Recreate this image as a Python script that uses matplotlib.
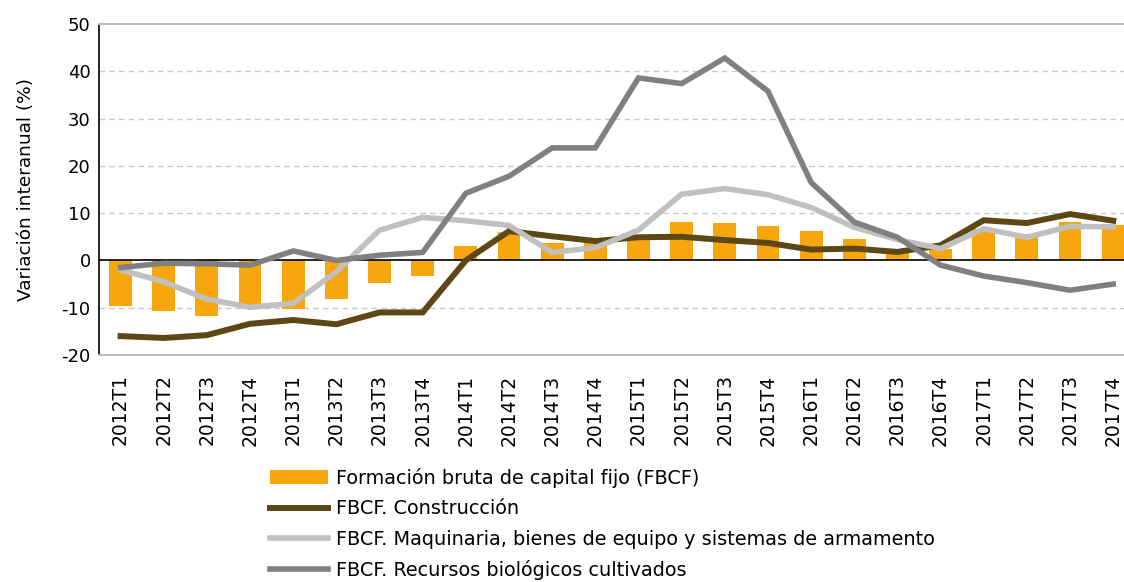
import matplotlib
matplotlib.use("Agg")
import matplotlib.pyplot as plt
import numpy as np

categories = ["2012T1", "2012T2", "2012T3", "2012T4",
              "2013T1", "2013T2", "2013T3", "2013T4",
              "2014T1", "2014T2", "2014T3", "2014T4",
              "2015T1", "2015T2", "2015T3", "2015T4",
              "2016T1", "2016T2", "2016T3", "2016T4",
              "2017T1", "2017T2", "2017T3", "2017T4"]

fbcf = [-9.6, -10.6, -11.7, -9.9, -10.2, -8.1, -4.7, -3.2,
        3.0, 6.0, 3.7, 4.0, 5.0, 8.1, 7.9, 7.2,
        6.2, 4.5, 2.5, 2.4, 6.6, 5.5, 8.1, 7.4]

construccion = [-16.0, -16.4, -15.8, -13.4, -12.6, -13.5, -11.0, -11.0,
                0.0, 6.2, 5.1, 4.1, 4.9, 5.0, 4.3, 3.7,
                2.3, 2.5, 1.8, 3.2, 8.5, 7.9, 9.8, 8.4]

maquinaria = [-2.0, -4.5, -8.2, -9.9, -9.1, -2.4, 6.4, 9.1,
              8.4, 7.4, 1.7, 2.7, 6.4, 14.0, 15.2, 13.9,
              11.2, 7.0, 4.4, 2.5, 6.7, 4.9, 7.2, 7.1]

recursos = [-1.5, -0.6, -0.7, -1.0, 2.0, 0.0, 1.1, 1.7,
            14.2, 17.8, 23.8, 23.8, 38.6, 37.4, 42.8, 35.8,
            16.5, 8.1, 4.9, -1.0, -3.3, -4.7, -6.3, -5.0]

labels = ["Formación bruta de capital fijo (FBCF)",
          "FBCF. Construcción",
          "FBCF. Maquinaria, bienes de equipo y sistemas de armamento",
          "FBCF. Recursos biológicos cultivados"]

yticks = [-20, -10, 0, 10, 20, 30, 40, 50]

plt.rcParams['font.family'] = ['DejaVu Sans']

fig = plt.figure(figsize=(11.24, 5.82), dpi=100)
ax = fig.add_axes([99 / 1124, 1 - 355 / 582, 1 - 99 / 1124, (355 - 24) / 582])

x = np.arange(len(categories))
bars = ax.bar(x, fbcf, width=0.53, color="#F7A60D", zorder=2, label=labels[0])
ax.axhline(0, color="black", lw=1.2, zorder=3)
l1, = ax.plot(x, construccion, color="#5E4716", lw=4.3, zorder=4, label=labels[1],
              solid_joinstyle="miter")
l2, = ax.plot(x, maquinaria, color="#C0C0C0", lw=4.0, zorder=5, label=labels[2],
              solid_joinstyle="miter")
l3, = ax.plot(x, recursos, color="#808080", lw=4.0, zorder=6, label=labels[3],
              solid_joinstyle="miter")

ax.set_xlim(-0.5, 23.25)
ax.set_ylim(-20, 50)
ax.set_yticks(yticks)
ax.set_yticklabels([str(v) for v in yticks], fontsize=13)
ax.set_xticks(x)
ax.set_xticklabels(categories, rotation=90, fontsize=13.5)
ax.tick_params(axis="both", length=0, pad=6)
ax.tick_params(axis="x", pad=14)

for v in [-10, 10, 20, 30, 40]:
    ax.axhline(v, color="#c8c8c8", lw=1.0, ls=(0, (4, 3)), zorder=1)

ax.spines["left"].set_color("black")
ax.spines["left"].set_linewidth(1.2)
ax.spines["bottom"].set_color("#bdbdbd")
ax.spines["bottom"].set_linewidth(1.5)
ax.spines["top"].set_color("#bdbdbd")
ax.spines["top"].set_linewidth(1.5)
ax.spines["right"].set_visible(False)

ax.set_ylabel("Variación interanual (%)", fontsize=13.3, labelpad=19)

fig.legend(handles=[bars, l1, l2, l3], labels=labels,
           loc="upper left", bbox_to_anchor=(270 / 1124, 1 - 468 / 582),
           frameon=False, fontsize=13.9, handlelength=3.0, handletextpad=0.4,
           labelspacing=0.59, borderpad=0, borderaxespad=0)

fig.savefig("out.png", dpi=100)
